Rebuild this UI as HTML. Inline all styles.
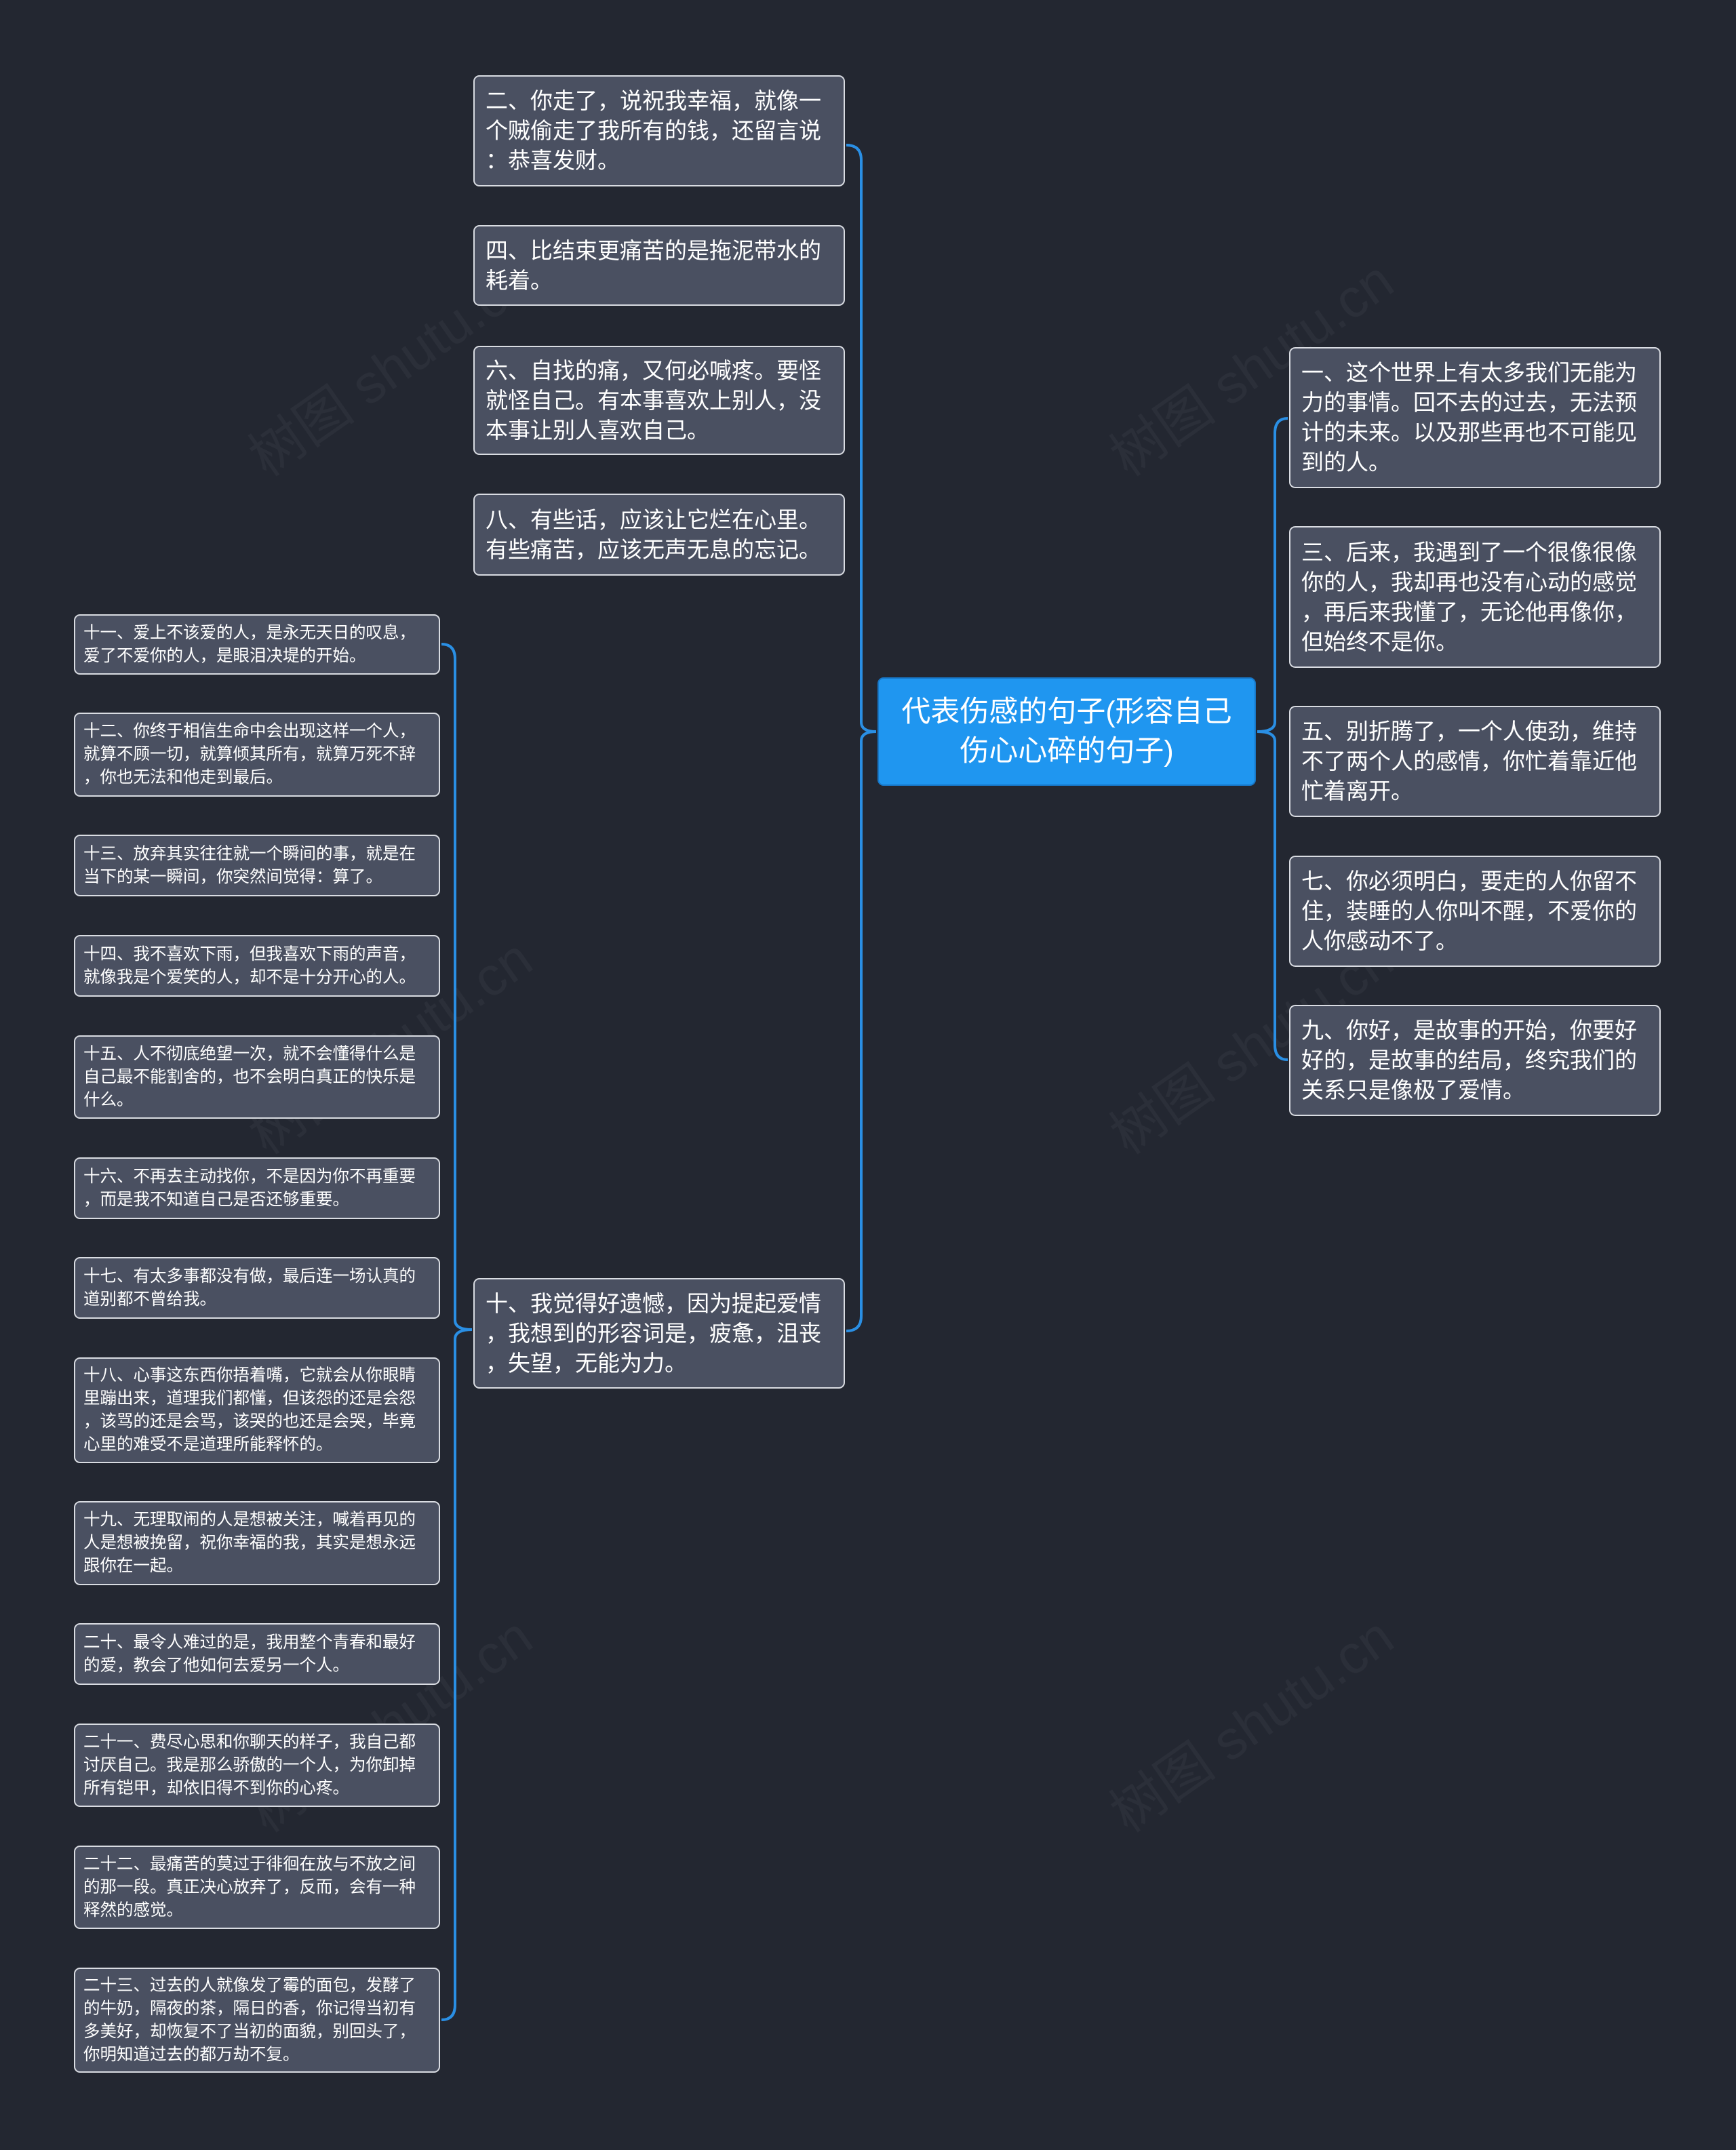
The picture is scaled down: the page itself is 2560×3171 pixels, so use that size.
<!DOCTYPE html>
<html><head><meta charset="utf-8"><style>
html,body{margin:0;padding:0}
body{width:2560px;height:3171px;background:#232731;position:relative;overflow:hidden;font-family:"Liberation Sans","Noto Sans CJK SC",sans-serif}
.n{position:absolute;box-sizing:border-box;background:#4a5061;border:2px solid #d9dce2;border-radius:9px;color:#fff;display:flex;align-items:center;white-space:nowrap}
.m{left:698px;width:548px;font-size:33px;line-height:44px;padding:0 16px}
.r{left:1901px;width:548px;font-size:33px;line-height:44px;padding:0 16px}
.l{left:109px;width:540px;font-size:24.5px;line-height:34px;padding:0 12px}
.c{left:1294px;top:999px;width:558px;height:160px;background:#1f96f0;border:2px solid #1877c7;font-size:43px;line-height:58px;justify-content:center;text-align:center}
.w{position:absolute;color:rgba(255,255,255,0.04);font-size:80px;transform:rotate(-35deg);white-space:nowrap}
</style></head><body>
<div class="w" style="left:330px;top:480px">树图 shutu.cn</div>
<div class="w" style="left:1600px;top:480px">树图 shutu.cn</div>
<div class="w" style="left:330px;top:1480px">树图 shutu.cn</div>
<div class="w" style="left:1600px;top:1480px">树图 shutu.cn</div>
<div class="w" style="left:330px;top:2480px">树图 shutu.cn</div>
<div class="w" style="left:1600px;top:2480px">树图 shutu.cn</div>
<svg width="2560" height="3171" style="position:absolute;left:0;top:0" fill="none" stroke="#2a8fe4" stroke-width="4">
<path d="M1248 214 Q1270 214 1270 236 L1270 1065 Q1270 1079 1292 1079 Q1270 1079 1270 1093 L1270 1941 Q1270 1963 1248 1963"/>
<path d="M1899 617 Q1880 617 1880 639 L1880 1065 Q1880 1079 1854 1079 Q1880 1079 1880 1093 L1880 1541 Q1880 1563 1899 1563"/>
<path d="M651 950 Q671 950 671 972 L671 1947 Q671 1961 696 1961 Q671 1961 671 1975 L671 2957 Q671 2979 651 2979"/>
</svg>
<div class="n c">代表伤感的句子(形容自己<br>伤心心碎的句子)</div>

<div class="n m" style="top:111px;height:164px">二、你走了，说祝我幸福，就像一<br>个贼偷走了我所有的钱，还留言说<br>：恭喜发财。</div>
<div class="n m" style="top:332px;height:119px">四、比结束更痛苦的是拖泥带水的<br>耗着。</div>
<div class="n m" style="top:510px;height:161px">六、自找的痛，又何必喊疼。要怪<br>就怪自己。有本事喜欢上别人，没<br>本事让别人喜欢自己。</div>
<div class="n m" style="top:728px;height:121px">八、有些话，应该让它烂在心里。<br>有些痛苦，应该无声无息的忘记。</div>
<div class="n m" style="top:1885px;height:163px">十、我觉得好遗憾，因为提起爱情<br>，我想到的形容词是，疲惫，沮丧<br>，失望，无能为力。</div>

<div class="n r" style="top:512px;height:208px">一、这个世界上有太多我们无能为<br>力的事情。回不去的过去，无法预<br>计的未来。以及那些再也不可能见<br>到的人。</div>
<div class="n r" style="top:776px;height:209px">三、后来，我遇到了一个很像很像<br>你的人，我却再也没有心动的感觉<br>，再后来我懂了，无论他再像你，<br>但始终不是你。</div>
<div class="n r" style="top:1041px;height:164px">五、别折腾了，一个人使劲，维持<br>不了两个人的感情，你忙着靠近他<br>忙着离开。</div>
<div class="n r" style="top:1262px;height:164px">七、你必须明白，要走的人你留不<br>住，装睡的人你叫不醒，不爱你的<br>人你感动不了。</div>
<div class="n r" style="top:1482px;height:164px">九、你好，是故事的开始，你要好<br>好的，是故事的结局，终究我们的<br>关系只是像极了爱情。</div>

<div class="n l" style="top:906px;height:89px">十一、爱上不该爱的人，是永无天日的叹息，<br>爱了不爱你的人，是眼泪决堤的开始。</div>
<div class="n l" style="top:1051px;height:124px">十二、你终于相信生命中会出现这样一个人，<br>就算不顾一切，就算倾其所有，就算万死不辞<br>，你也无法和他走到最后。</div>
<div class="n l" style="top:1231px;height:91px">十三、放弃其实往往就一个瞬间的事，就是在<br>当下的某一瞬间，你突然间觉得：算了。</div>
<div class="n l" style="top:1379px;height:91px">十四、我不喜欢下雨，但我喜欢下雨的声音，<br>就像我是个爱笑的人，却不是十分开心的人。</div>
<div class="n l" style="top:1527px;height:123px">十五、人不彻底绝望一次，就不会懂得什么是<br>自己最不能割舍的，也不会明白真正的快乐是<br>什么。</div>
<div class="n l" style="top:1707px;height:91px">十六、不再去主动找你，不是因为你不再重要<br>，而是我不知道自己是否还够重要。</div>
<div class="n l" style="top:1854px;height:91px">十七、有太多事都没有做，最后连一场认真的<br>道别都不曾给我。</div>
<div class="n l" style="top:2002px;height:156px">十八、心事这东西你捂着嘴，它就会从你眼睛<br>里蹦出来，道理我们都懂，但该怨的还是会怨<br>，该骂的还是会骂，该哭的也还是会哭，毕竟<br>心里的难受不是道理所能释怀的。</div>
<div class="n l" style="top:2214px;height:124px">十九、无理取闹的人是想被关注，喊着再见的<br>人是想被挽留，祝你幸福的我，其实是想永远<br>跟你在一起。</div>
<div class="n l" style="top:2394px;height:91px">二十、最令人难过的是，我用整个青春和最好<br>的爱，教会了他如何去爱另一个人。</div>
<div class="n l" style="top:2542px;height:123px">二十一、费尽心思和你聊天的样子，我自己都<br>讨厌自己。我是那么骄傲的一个人，为你卸掉<br>所有铠甲，却依旧得不到你的心疼。</div>
<div class="n l" style="top:2722px;height:123px">二十二、最痛苦的莫过于徘徊在放与不放之间<br>的那一段。真正决心放弃了，反而，会有一种<br>释然的感觉。</div>
<div class="n l" style="top:2902px;height:155px">二十三、过去的人就像发了霉的面包，发酵了<br>的牛奶，隔夜的茶，隔日的香，你记得当初有<br>多美好，却恢复不了当初的面貌，别回头了，<br>你明知道过去的都万劫不复。</div>
</body></html>
